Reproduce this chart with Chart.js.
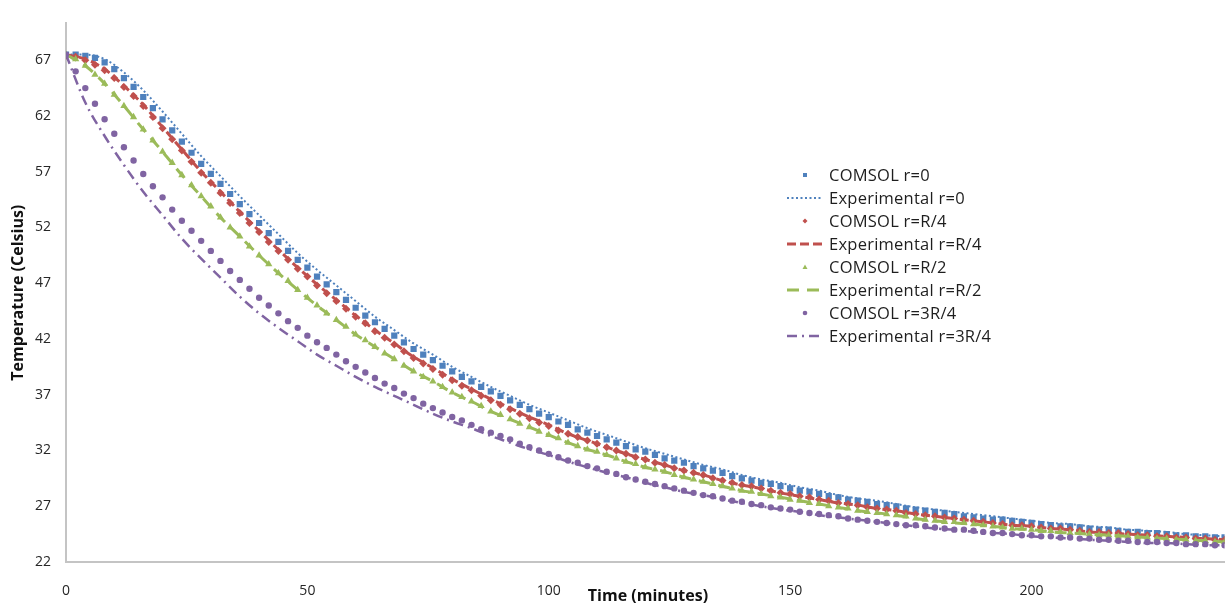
<!DOCTYPE html>
<html>
<head>
<meta charset="utf-8">
<script src="https://cdn.jsdelivr.net/npm/chart.js@4.4.1/dist/chart.umd.min.js"></script>
<style>
  html, body { margin: 0; padding: 0; background: #fff; }
  #wrap { position: relative; width: 1229px; height: 606px; }
  #legend {
    position: absolute; left: 787px; top: 163px;
    font-family: 'Open Sans', sans-serif; font-size: 16.5px; letter-spacing: 0.25px; color: #1e1e1e;
  }
  .row { height: 23px; display: flex; align-items: center; white-space: nowrap; }
  .row svg { width: 36px; height: 14px; margin-right: 6px; flex: none; }
  #xTitle {
    position: absolute; left: 648px; top: 584px; transform: translateX(-50%);
    font-family: 'Open Sans', sans-serif; font-size: 16px; font-weight: bold; color: #111;
    line-height: 22px; white-space: nowrap;
  }
</style>
</head>
<body>
<div id="wrap">
  <canvas id="myChart" width="1229" height="606"></canvas>
  <div id="legend"></div>
  <div id="xTitle">Time (minutes)</div>
</div>
<script>
// time stamps (minutes)
const tComsol = [0, 2, 4, 6, 8, 10, 12, 14, 16, 18, 20, 22, 24, 26, 28, 30, 32, 34, 36, 38, 40,
  42, 44, 46, 48, 50, 52, 54, 56, 58, 60, 62, 64, 66, 68, 70, 72, 74, 76, 78, 80,
  82, 84, 86, 88, 90, 92, 94, 96, 98, 100, 102, 104, 106, 108, 110, 112, 114, 116, 118, 120,
  122, 124, 126, 128, 130, 132, 134, 136, 138, 140, 142, 144, 146, 148, 150, 152, 154, 156, 158, 160,
  162, 164, 166, 168, 170, 172, 174, 176, 178, 180, 182, 184, 186, 188, 190, 192, 194, 196, 198, 200,
  202, 204, 206, 208, 210, 212, 214, 216, 218, 220, 222, 224, 226, 228, 230, 232, 234, 236, 238, 240];
const tExp = [0, 4, 8, 12, 16, 20, 24, 28, 32, 36, 40, 44, 48, 52, 56, 60, 64, 68, 72, 76, 80,
  84, 88, 92, 96, 100, 104, 108, 112, 116, 120, 124, 128, 132, 136, 140, 144, 148, 152, 156, 160,
  164, 168, 172, 176, 180, 184, 188, 192, 196, 200, 204, 208, 212, 216, 220, 224, 228, 232, 236, 240];

// COMSOL temperatures (Celsius)
const comsolR0 = [67.5, 67.5, 67.4, 67.2, 66.8, 66.2, 65.4, 64.6, 63.7, 62.7, 61.7, 60.7, 59.7, 58.7, 57.7, 56.8, 55.9, 55.0, 54.1, 53.2, 52.4,
  51.5, 50.7, 49.9, 49.1, 48.4, 47.6, 46.9, 46.2, 45.5, 44.8, 44.1, 43.5, 42.9, 42.3, 41.7, 41.1, 40.6, 40.1, 39.6, 39.1,
  38.6, 38.2, 37.7, 37.3, 36.9, 36.5, 36.1, 35.7, 35.3, 35.0, 34.6, 34.3, 33.9, 33.6, 33.3, 33.0, 32.7, 32.4, 32.1, 31.9,
  31.6, 31.3, 31.1, 30.9, 30.6, 30.4, 30.2, 30.0, 29.7, 29.5, 29.3, 29.1, 29.0, 28.8, 28.6, 28.4, 28.3, 28.1, 27.9, 27.8,
  27.6, 27.5, 27.4, 27.2, 27.1, 27.0, 26.8, 26.7, 26.6, 26.5, 26.4, 26.3, 26.1, 26.0, 25.9, 25.8, 25.8, 25.7, 25.6, 25.5,
  25.4, 25.3, 25.2, 25.2, 25.1, 25.0, 24.9, 24.9, 24.8, 24.7, 24.7, 24.6, 24.6, 24.5, 24.4, 24.4, 24.3, 24.3, 24.2, 24.2];
const comsolR4 = [67.4, 67.3, 67.0, 66.6, 66.1, 65.4, 64.6, 63.8, 62.9, 61.9, 60.9, 59.9, 58.9, 57.9, 56.9, 56.0, 55.1, 54.2, 53.3, 52.4, 51.6,
  50.7, 49.9, 49.1, 48.3, 47.6, 46.8, 46.1, 45.4, 44.7, 44.0, 43.4, 42.7, 42.1, 41.5, 40.9, 40.3, 39.8, 39.3, 38.8, 38.3,
  37.8, 37.4, 36.9, 36.5, 36.1, 35.7, 35.3, 34.9, 34.5, 34.2, 33.8, 33.5, 33.2, 32.9, 32.6, 32.3, 32.0, 31.7, 31.4, 31.2,
  30.9, 30.7, 30.4, 30.2, 30.0, 29.8, 29.5, 29.3, 29.1, 28.9, 28.8, 28.6, 28.4, 28.2, 28.1, 27.9, 27.8, 27.6, 27.5, 27.3,
  27.2, 27.1, 26.9, 26.8, 26.7, 26.6, 26.4, 26.3, 26.2, 26.1, 26.0, 25.9, 25.8, 25.7, 25.6, 25.5, 25.4, 25.3, 25.3, 25.2,
  25.1, 25.0, 25.0, 24.9, 24.8, 24.7, 24.7, 24.6, 24.6, 24.5, 24.4, 24.4, 24.3, 24.3, 24.2, 24.2, 24.1, 24.1, 24.0, 24.0];
const comsolR2 = [67.5, 67.1, 66.5, 65.7, 64.9, 63.9, 62.9, 61.9, 60.8, 59.8, 58.8, 57.8, 56.7, 55.8, 54.8, 53.9, 52.9, 52.0, 51.2, 50.3, 49.5,
  48.7, 47.9, 47.2, 46.4, 45.7, 45.0, 44.3, 43.7, 43.1, 42.4, 41.9, 41.3, 40.7, 40.2, 39.6, 39.1, 38.6, 38.2, 37.7, 37.2,
  36.8, 36.4, 36.0, 35.5, 35.2, 34.8, 34.4, 34.1, 33.7, 33.4, 33.1, 32.7, 32.4, 32.1, 31.9, 31.6, 31.3, 31.0, 30.8, 30.5,
  30.3, 30.1, 29.8, 29.6, 29.4, 29.2, 29.0, 28.8, 28.6, 28.4, 28.3, 28.1, 27.9, 27.8, 27.6, 27.5, 27.3, 27.2, 27.0, 26.9,
  26.8, 26.6, 26.5, 26.4, 26.3, 26.2, 26.1, 25.9, 25.8, 25.7, 25.6, 25.6, 25.5, 25.4, 25.3, 25.2, 25.1, 25.0, 25.0, 24.9,
  24.8, 24.8, 24.7, 24.6, 24.6, 24.5, 24.4, 24.4, 24.3, 24.3, 24.2, 24.2, 24.1, 24.1, 24.0, 24.0, 23.9, 23.9, 23.8, 23.8];
const comsol3R4 = [67.5, 66.0, 64.5, 63.1, 61.7, 60.4, 59.2, 58.0, 56.8, 55.7, 54.7, 53.6, 52.6, 51.7, 50.8, 49.9, 49.0, 48.1, 47.3, 46.5, 45.7,
  45.0, 44.3, 43.6, 43.0, 42.3, 41.7, 41.2, 40.6, 40.0, 39.5, 39.0, 38.5, 38.0, 37.6, 37.1, 36.7, 36.2, 35.8, 35.4, 35.0,
  34.7, 34.3, 33.9, 33.6, 33.3, 33.0, 32.6, 32.3, 32.0, 31.7, 31.4, 31.1, 30.9, 30.6, 30.4, 30.1, 29.9, 29.6, 29.4, 29.2,
  29.0, 28.8, 28.6, 28.4, 28.2, 28.0, 27.9, 27.7, 27.5, 27.4, 27.2, 27.1, 26.9, 26.8, 26.7, 26.5, 26.4, 26.3, 26.2, 26.1,
  25.9, 25.8, 25.7, 25.6, 25.5, 25.4, 25.3, 25.3, 25.2, 25.1, 25.0, 24.9, 24.9, 24.8, 24.7, 24.6, 24.6, 24.5, 24.4, 24.4,
  24.3, 24.3, 24.2, 24.2, 24.1, 24.1, 24.0, 24.0, 23.9, 23.9, 23.8, 23.8, 23.8, 23.7, 23.7, 23.6, 23.6, 23.6, 23.5, 23.5];

// experimental temperatures (Celsius)
const expR0 = [67.5, 67.5, 67.1, 65.9, 64.3, 62.4, 60.4, 58.4, 56.6, 54.8, 53.1, 51.4, 49.7, 48.2, 46.8, 45.4, 44.0, 42.8, 41.6, 40.6, 39.5,
  38.6, 37.7, 36.9, 36.1, 35.4, 34.7, 34.0, 33.4, 32.8, 32.2, 31.7, 31.2, 30.7, 30.3, 29.8, 29.4, 29.1, 28.7, 28.4, 28.0,
  27.7, 27.5, 27.2, 26.9, 26.7, 26.5, 26.3, 26.1, 25.9, 25.7, 25.5, 25.4, 25.2, 25.1, 24.9, 24.8, 24.7, 24.5, 24.4, 24.3];
const expR4 = [67.5, 67.1, 66.2, 64.7, 63.0, 61.0, 59.0, 57.0, 55.2, 53.4, 51.7, 50.0, 48.4, 46.9, 45.5, 44.1, 42.8, 41.6, 40.4, 39.4, 38.4,
  37.5, 36.6, 35.8, 35.0, 34.3, 33.5, 32.9, 32.3, 31.7, 31.2, 30.7, 30.2, 29.8, 29.3, 28.9, 28.6, 28.2, 27.9, 27.6, 27.3,
  27.1, 26.8, 26.6, 26.3, 26.1, 25.9, 25.7, 25.5, 25.3, 25.2, 25.0, 24.9, 24.7, 24.6, 24.5, 24.4, 24.3, 24.2, 24.1, 24.0];
const expR2 = [67.5, 66.5, 64.9, 62.9, 60.8, 58.8, 56.7, 54.8, 52.9, 51.2, 49.5, 47.9, 46.4, 45.0, 43.7, 42.4, 41.3, 40.2, 39.1, 38.2, 37.2,
  36.4, 35.5, 34.8, 34.1, 33.4, 32.7, 32.1, 31.6, 31.0, 30.5, 30.1, 29.6, 29.2, 28.8, 28.4, 28.1, 27.8, 27.5, 27.2, 26.9,
  26.6, 26.4, 26.2, 25.9, 25.7, 25.5, 25.4, 25.2, 25.0, 24.9, 24.7, 24.6, 24.5, 24.4, 24.3, 24.2, 24.1, 24.0, 23.9, 23.8];
const exp3R4 = [67.5, 63.2, 60.2, 57.6, 55.2, 53.1, 51.0, 49.2, 47.5, 45.8, 44.3, 43.0, 41.8, 40.6, 39.6, 38.6, 37.7, 36.9, 36.1, 35.3, 34.6,
  34.0, 33.3, 32.7, 32.1, 31.6, 31.0, 30.5, 30.0, 29.6, 29.1, 28.7, 28.3, 28.0, 27.6, 27.3, 27.0, 26.7, 26.5, 26.2, 26.0,
  25.8, 25.6, 25.4, 25.2, 25.0, 24.9, 24.7, 24.6, 24.5, 24.3, 24.2, 24.1, 24.0, 23.9, 23.8, 23.7, 23.7, 23.6, 23.5, 23.5];

// axis tick labels
const xTicks = [0, 50, 100, 150, 200];
const yTicks = [22, 27, 32, 37, 42, 47, 52, 57, 62, 67];

const BLUE = '#4F81BD';
const RED = '#C0504D';
const GREEN = '#9BBB59';
const PURPLE = '#8064A2';
const FONT = "'Open Sans', sans-serif";

const toXY = (xs, ys) => ys.map((y, i) => ({ x: xs[i], y }));

function comsolSet(label, ys, color, style, radius) {
  return {
    label, data: toXY(tComsol, ys), showLine: false,
    pointStyle: style, pointRadius: radius, pointBorderWidth: 0,
    pointBackgroundColor: color, pointBorderColor: color,
    borderColor: color, backgroundColor: color,
    _legend: { kind: 'marker', style, color },
  };
}

function expSet(label, ys, color, width, dash) {
  return {
    label, data: toXY(tExp, ys), showLine: true, pointRadius: 0,
    borderColor: color, backgroundColor: color, borderWidth: width, borderDash: dash,
    cubicInterpolationMode: 'monotone', fill: false,
    _legend: { kind: 'line', color, width, dash },
  };
}

const datasets = [
  comsolSet('COMSOL r=0', comsolR0, BLUE, 'rect', 4.4),
  expSet('Experimental r=0', expR0, BLUE, 2, [2, 2.5]),
  comsolSet('COMSOL r=R/4', comsolR4, RED, 'rectRot', 4),
  expSet('Experimental r=R/4', expR4, RED, 3, [9, 4]),
  comsolSet('COMSOL r=R/2', comsolR2, GREEN, 'triangle', 4.2),
  expSet('Experimental r=R/2', expR2, GREEN, 3, [12, 8]),
  comsolSet('COMSOL r=3R/4', comsol3R4, PURPLE, 'circle', 3.2),
  expSet('Experimental r=3R/4', exp3R4, PURPLE, 2.5, [10, 5, 2, 5]),
];
// later series painted on top, like the original
datasets.forEach((d, i) => { d.order = datasets.length - i; });

const chart = new Chart(document.getElementById('myChart'), {
  type: 'line',
  data: { datasets },
  options: {
    responsive: false,
    animation: false,
    events: [],
    layout: { padding: { top: 10, right: 4, left: 0, bottom: 0 } },
    plugins: { legend: { display: false }, tooltip: { enabled: false } },
    scales: {
      x: {
        type: 'linear', min: 0, max: 240,
        grid: { display: false, drawTicks: false },
        border: { display: true, color: '#c4c4c4', width: 2 },
        ticks: { padding: 21, color: '#262626', font: { family: FONT, size: 14 } },
        afterBuildTicks: (s) => { s.ticks = xTicks.map((v) => ({ value: v })); },
        afterFit: (s) => { s.height = 44; },
      },
      y: {
        type: 'linear', min: 22, max: 70.3,
        grid: { display: false, drawTicks: false },
        border: { display: true, color: '#c4c4c4', width: 2 },
        ticks: { padding: 15, color: '#262626', font: { family: FONT, size: 14 } },
        afterBuildTicks: (s) => { s.ticks = yTicks.map((v) => ({ value: v })); },
        afterFit: (s) => { s.width = 66; },
        title: {
          display: true, text: 'Temperature (Celsius)', color: '#111',
          font: { family: FONT, size: 16, weight: 'bold' }, padding: { top: 9, bottom: 0 },
        },
      },
    },
  },
});

// legend placed inside the plot, as in the original
function legendIcon(o) {
  const ns = 'http://www.w3.org/2000/svg';
  const svg = document.createElementNS(ns, 'svg');
  svg.setAttribute('viewBox', '0 0 36 14');
  let el;
  if (o.kind === 'line') {
    el = document.createElementNS(ns, 'line');
    el.setAttribute('x1', 0); el.setAttribute('x2', 36);
    el.setAttribute('y1', 7); el.setAttribute('y2', 7);
    el.setAttribute('stroke', o.color);
    el.setAttribute('stroke-width', o.width);
    el.setAttribute('stroke-dasharray', o.dash.join(' '));
  } else if (o.style === 'rect') {
    el = document.createElementNS(ns, 'rect');
    el.setAttribute('x', 16); el.setAttribute('y', 5); el.setAttribute('width', 4); el.setAttribute('height', 4);
    el.setAttribute('fill', o.color);
  } else if (o.style === 'rectRot') {
    el = document.createElementNS(ns, 'polygon');
    el.setAttribute('points', '18,4.5 20.5,7 18,9.5 15.5,7');
    el.setAttribute('fill', o.color);
  } else if (o.style === 'triangle') {
    el = document.createElementNS(ns, 'polygon');
    el.setAttribute('points', '18,4.5 20.5,9 15.5,9');
    el.setAttribute('fill', o.color);
  } else {
    el = document.createElementNS(ns, 'circle');
    el.setAttribute('cx', 18); el.setAttribute('cy', 7); el.setAttribute('r', 2.3);
    el.setAttribute('fill', o.color);
  }
  svg.appendChild(el);
  return svg;
}

const legend = document.getElementById('legend');
chart.data.datasets.forEach((d) => {
  const row = document.createElement('div');
  row.className = 'row';
  row.appendChild(legendIcon(d._legend));
  const span = document.createElement('span');
  span.textContent = d.label;
  row.appendChild(span);
  legend.appendChild(row);
});
</script>
</body>
</html>
